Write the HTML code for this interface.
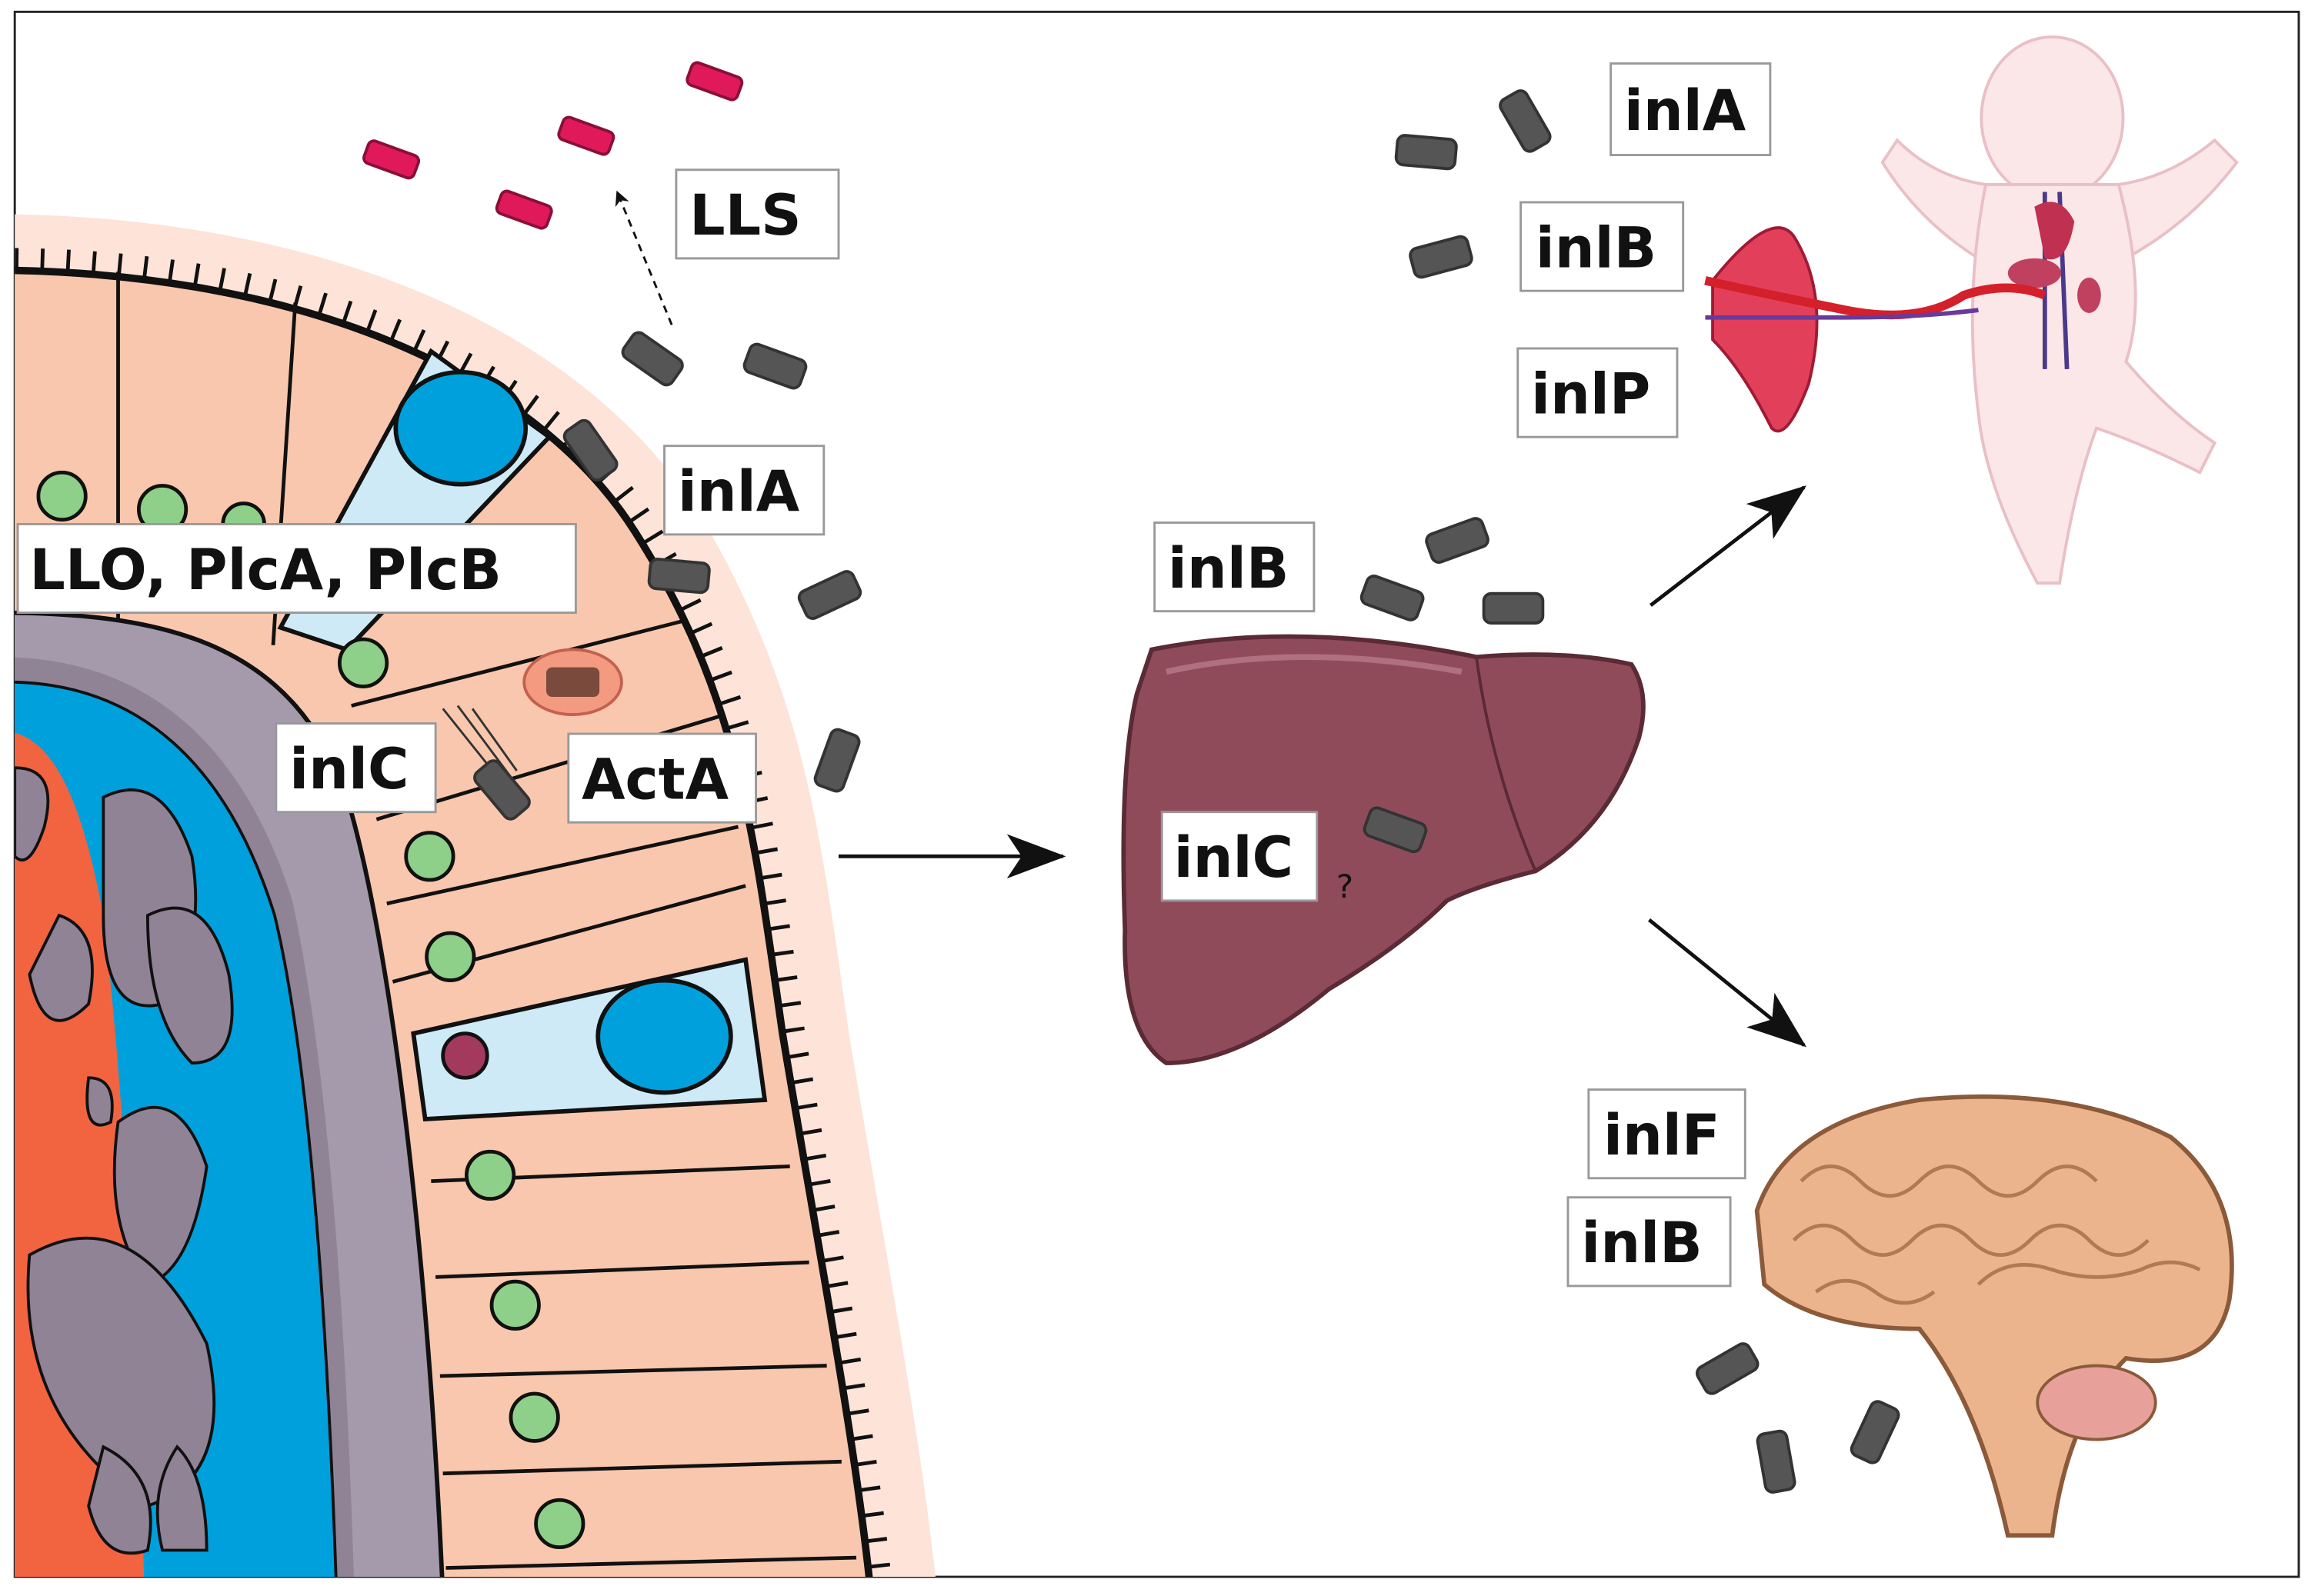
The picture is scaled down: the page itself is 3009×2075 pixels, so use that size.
<!DOCTYPE html>
<html><head><meta charset="utf-8"><style>
html,body{margin:0;padding:0;background:#fff;overflow:hidden;width:3009px;height:2075px;}
svg{display:block;}
text{font-family:"DejaVu Sans","Liberation Sans",sans-serif;font-weight:bold;fill:#111;}
</style></head><body>
<svg width="3009" height="2075" viewBox="0 0 1568 1081" preserveAspectRatio="none" xmlns="http://www.w3.org/2000/svg">
<defs>
<clipPath id="fr"><rect x="10" y="8" width="1547" height="1060"/></clipPath>
<marker id="ah" markerWidth="10" markerHeight="10" refX="9" refY="5" orient="auto" markerUnits="userSpaceOnUse">
<path d="M0,0 L10,5 L0,10 L3,5 z" fill="#111"/></marker>
<marker id="ab" markerWidth="40" markerHeight="30" refX="38" refY="15" orient="auto" markerUnits="userSpaceOnUse">
<path d="M0,0 L40,15 L0,30 L10,15 z" fill="#111"/></marker>
<g id="bac"><rect x="-20" y="-10" width="40" height="20" rx="5" fill="#555" stroke="#333" stroke-width="2"/></g>
<g id="pb"><rect x="-18" y="-8" width="36" height="16" rx="4" fill="#e0195a" stroke="#8a0f38" stroke-width="2"/></g>
</defs>
<rect x="10" y="8" width="1547" height="1060" fill="#fff" stroke="#222" stroke-width="1.5"/>
<g clip-path="url(#fr)">
<!-- halo -->
<path d="M0,145 C220,147 395,222 475,350 C545,470 555,560 575,700 C600,850 625,980 635,1081 L0,1081 Z" fill="#fde3d8"/>
<!-- cilia -->
<path d="M10,176 C205,178 366,244 437,356 C508,468 517,558 537,698 C562,848 587,978 597,1081" fill="none" stroke="#111" stroke-width="16" stroke-dasharray="2.5,15"/>
<!-- epithelium -->
<path d="M0,183 C200,185 360,250 430,360 C500,470 510,560 530,700 C555,850 580,980 590,1081 L0,1081 Z" fill="#f9c7ad" stroke="#111" stroke-width="5"/>
<!-- goblet cells -->
<path d="M292,238 L372,296 L235,440 L190,425 Z" fill="#cdeaf6" stroke="#111" stroke-width="3"/>
<ellipse cx="312" cy="290" rx="44" ry="38" fill="#00a0dc" stroke="#111" stroke-width="3"/>
<path d="M505,650 L518,745 L288,758 L280,700 Z" fill="#cdeaf6" stroke="#111" stroke-width="3"/>
<ellipse cx="450" cy="702" rx="45" ry="38" fill="#00a0dc" stroke="#111" stroke-width="3"/>
<g stroke="#111" stroke-width="2.5" fill="none">
<path d="M80,184 L80,420 M200,205 L185,437"/>
<path d="M465,420 L238,478 M488,485 L255,555 M500,560 L262,612 M505,600 L266,665"/>
<path d="M535,790 L292,800 M548,855 L295,865 M560,925 L298,932 M570,990 L300,998 M580,1055 L302,1062"/>
</g>
<!-- inner layers -->
<path d="M0,415 C120,415 200,440 235,540 C265,640 290,850 300,1081 L0,1081 Z" fill="#a59aab" stroke="#111" stroke-width="3"/>
<path d="M0,445 C100,445 165,505 198,610 C222,720 235,900 240,1081 L0,1081 Z" fill="#8f8395"/>
<path d="M0,462 C95,460 155,520 186,620 C210,720 222,900 228,1081 L0,1081 Z" fill="#00a0dc" stroke="#111" stroke-width="2"/>
<path d="M0,495 C35,495 55,540 70,620 C85,750 92,900 98,1081 L0,1081 Z" fill="#f26440"/>
<g fill="#8f8395" stroke="#111" stroke-width="2">
<path d="M70,540 q40,-20 60,40 q10,60 -20,100 q-40,10 -40,-60z"/>
<path d="M10,520 q30,0 20,40 q-10,30 -20,20z"/>
<path d="M100,620 q40,-20 55,40 q10,60 -25,60 q-30,-30 -30,-100z"/>
<path d="M40,620 q30,10 20,60 q-30,30 -40,-20z"/>
<path d="M80,760 q40,-30 60,30 q-10,70 -40,80 q-30,-40 -20,-110z"/>
<path d="M20,850 q70,-40 120,60 q20,90 -40,110 q-90,-60 -80,-170z"/>
<path d="M60,730 q20,0 15,30 q-20,10 -15,-30z"/>
<path d="M70,980 q40,20 30,70 q-30,10 -40,-30z"/>
<path d="M120,980 q20,20 20,70 l-30,0 q-10,-40 10,-70z"/>
</g>
<!-- nuclei -->
<g fill="#8ed08a" stroke="#111" stroke-width="2.5">
<circle cx="42" cy="336" r="16"/><circle cx="110" cy="345" r="16"/><circle cx="165" cy="355" r="14"/>
<circle cx="246" cy="449" r="16"/><circle cx="291" cy="580" r="16"/><circle cx="305" cy="648" r="16"/>
<circle cx="332" cy="796" r="16"/><circle cx="349" cy="884" r="16"/><circle cx="362" cy="960" r="16"/><circle cx="379" cy="1032" r="16"/>
</g>
<circle cx="315" cy="715" r="15" fill="#a33a5e" stroke="#111" stroke-width="2.5"/>
<ellipse cx="388" cy="462" rx="33" ry="22" fill="#f39a80" stroke="#c46050" stroke-width="2"/>
<rect x="370" y="452" width="36" height="20" rx="4" fill="#7a4a3c"/>
</g>
<!-- inlC bacterium with tail -->
<g stroke="#333" stroke-width="1.5"><path d="M300,480 L340,530 M310,478 L345,525 M320,480 L350,522"/></g>
<use href="#bac" transform="translate(340,535) rotate(50)"/>
<!-- bacteria -->
<use href="#pb" transform="translate(484,55) rotate(20)"/>
<use href="#pb" transform="translate(397,92) rotate(20)"/>
<use href="#pb" transform="translate(265,108) rotate(20)"/>
<use href="#pb" transform="translate(355,142) rotate(20)"/>
<use href="#bac" transform="translate(442,243) rotate(35)"/>
<use href="#bac" transform="translate(525,248) rotate(20)"/>
<use href="#bac" transform="translate(400,305) rotate(55)"/>
<use href="#bac" transform="translate(460,390) rotate(5)"/>
<use href="#bac" transform="translate(562,403) rotate(-25)"/>
<use href="#bac" transform="translate(567,515) rotate(-70)"/>
<use href="#bac" transform="translate(1033,82) rotate(60)"/>
<use href="#bac" transform="translate(966,103) rotate(5)"/>
<use href="#bac" transform="translate(976,174) rotate(-15)"/>
<use href="#bac" transform="translate(987,366) rotate(-20)"/>
<use href="#bac" transform="translate(943,405) rotate(20)"/>
<use href="#bac" transform="translate(1025,412) rotate(0)"/>
<use href="#bac" transform="translate(1170,927) rotate(-30)"/>
<use href="#bac" transform="translate(1203,990) rotate(80)"/>
<use href="#bac" transform="translate(1270,970) rotate(-65)"/>
<!-- arrows -->
<line x1="455" y1="220" x2="418" y2="130" stroke="#111" stroke-width="1.5" stroke-dasharray="5,4" marker-end="url(#ah)"/>
<line x1="568" y1="580" x2="720" y2="580" stroke="#111" stroke-width="2.5" marker-end="url(#ab)"/>
<line x1="1118" y1="410" x2="1222" y2="330" stroke="#111" stroke-width="2.5" marker-end="url(#ab)"/>
<line x1="1117" y1="623" x2="1222" y2="708" stroke="#111" stroke-width="2.5" marker-end="url(#ab)"/>
<!-- liver -->
<path d="M780,440 Q880,420 1000,445 Q1060,440 1105,450 Q1118,470 1110,500 Q1090,560 1040,590 Q1000,600 980,610 Q950,640 900,670 Q840,720 790,720 Q760,700 762,630 Q758,520 770,470 Z" fill="#904b5b" stroke="#5a2a35" stroke-width="3"/>
<path d="M1000,445 Q1010,520 1040,590" fill="none" stroke="#5a2a35" stroke-width="2"/>
<path d="M790,455 Q880,435 990,455" fill="none" stroke="#b07080" stroke-width="4"/>
<use href="#bac" transform="translate(945,562) rotate(20)"/>
<text x="905" y="608" style="font-weight:normal;font-size:22px">?</text>
<!-- baby -->
<g fill="#fbe6e8" stroke="#e8c0c6" stroke-width="2">
<ellipse cx="1390" cy="80" rx="48" ry="55"/>
<path d="M1345,125 Q1310,120 1285,95 L1275,110 Q1300,150 1340,175 Z"/>
<path d="M1435,125 Q1470,120 1500,95 L1515,110 Q1485,150 1440,175 Z"/>
<path d="M1345,125 L1435,125 Q1455,200 1440,245 Q1470,280 1500,300 L1490,320 Q1450,300 1420,290 Q1405,330 1395,395 L1380,395 Q1345,330 1340,280 Q1330,200 1345,125 Z"/>
</g>
<g stroke="#4a3a8a" stroke-width="3" fill="none"><path d="M1385,130 L1385,250 M1395,130 L1400,250"/></g>
<path d="M1378,140 Q1395,130 1405,150 Q1400,180 1385,175 Z" fill="#c03050"/>
<ellipse cx="1378" cy="185" rx="18" ry="10" fill="#c04060"/>
<ellipse cx="1415" cy="200" rx="8" ry="12" fill="#c04060"/>
<!-- placenta -->
<path d="M1160,190 Q1200,140 1215,160 Q1240,200 1225,260 Q1210,300 1200,290 Q1180,250 1160,230 Z" fill="#e2405a" stroke="#a01a35" stroke-width="2"/>
<path d="M1155,190 Q1200,200 1250,210 Q1300,220 1330,200 Q1360,190 1385,200" fill="none" stroke="#d4202a" stroke-width="6"/>
<path d="M1155,215 Q1200,215 1250,215 Q1300,215 1340,210" fill="none" stroke="#6a3a9a" stroke-width="3"/>
<!-- brain -->
<path d="M1190,820 Q1210,760 1300,745 Q1400,735 1470,770 Q1520,810 1510,880 Q1500,930 1440,920 Q1400,960 1390,1040 L1360,1040 Q1340,950 1300,900 Q1230,900 1195,870 Z" fill="#ecb48c" stroke="#8a5a3a" stroke-width="3"/>
<ellipse cx="1420" cy="950" rx="40" ry="25" fill="#e8a09a" stroke="#8a5a3a" stroke-width="2"/>
<g fill="none" stroke="#b07a55" stroke-width="2.5">
<path d="M1220,800 q20,-20 40,0 q20,20 40,0 q20,-20 40,0 q20,20 40,0 q20,-20 40,0"/>
<path d="M1215,840 q20,-20 40,0 q20,20 40,0 q20,-20 40,0 q20,20 40,0 q20,-20 40,0 q20,20 40,0"/>
<path d="M1230,875 q20,-15 40,0 q20,15 40,0 M1340,870 q20,-20 50,-10 q30,10 60,0 q20,-10 40,0"/>
</g>
<!-- labels -->
<g fill="#fff" stroke="#999" stroke-width="1.5">
<rect x="12" y="355" width="378" height="60"/>
<rect x="187" y="490" width="108" height="60"/>
<rect x="385" y="497" width="127" height="60"/>
<rect x="450" y="302" width="108" height="60"/>
<rect x="458" y="115" width="110" height="60"/>
<rect x="1091" y="43" width="108" height="62"/>
<rect x="1030" y="137" width="110" height="60"/>
<rect x="1028" y="236" width="108" height="60"/>
<rect x="782" y="354" width="108" height="60"/>
<rect x="787" y="550" width="105" height="60"/>
<rect x="1076" y="738" width="106" height="60"/>
<rect x="1062" y="811" width="110" height="60"/>
</g>
<g font-size="38">
<text x="20" y="399">LLO, PlcA, PlcB</text>
<text x="196" y="534">inlC</text>
<text x="394" y="541">ActA</text>
<text x="459" y="346">inlA</text>
<text x="467" y="159">LLS</text>
<text x="1100" y="88">inlA</text>
<text x="1040" y="181">inlB</text>
<text x="1037" y="280">inlP</text>
<text x="791" y="398">inlB</text>
<text x="795" y="594">inlC</text>
<text x="1086" y="782">inlF</text>
<text x="1071" y="855">inlB</text>
</g>
</svg>
</body></html>
